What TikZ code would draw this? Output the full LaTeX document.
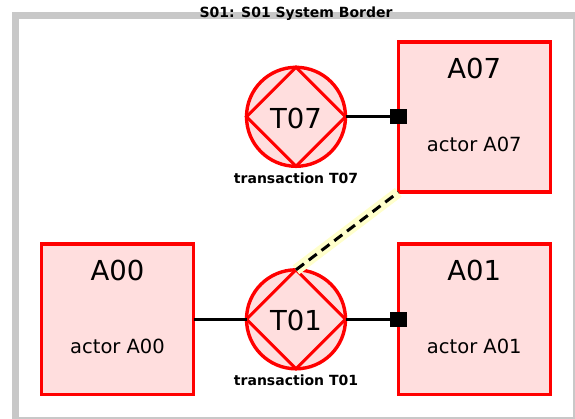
\documentclass[tikz,border=0pt]{standalone}
\usepackage{fontspec}
\setmainfont{DejaVu Sans}
\usetikzlibrary{calc}
\definecolor{actorfill}{RGB}{255,222,222}
\definecolor{bordergray}{RGB}{200,200,200}
\definecolor{hilite}{RGB}{255,255,204}

\begin{document}
\begin{tikzpicture}[x=1pt,y=-1pt,
  actor/.style={rectangle, draw=red, fill=actorfill, line width=3.6pt,
    minimum width=152pt, minimum height=150pt, inner sep=0pt, outer sep=0pt},
  trans/.style={circle, draw=red, fill=actorfill, line width=3.4pt,
    minimum size=99pt, inner sep=0pt, outer sep=0pt},
  diamondline/.style={draw=red, line width=3pt, line join=miter},
  bigtext/.style={font=\fontsize{27.5}{28}\selectfont, inner sep=0pt},
  smalltext/.style={font=\fontsize{19.5}{20}\selectfont, inner sep=0pt},
  caption/.style={font=\bfseries\fontsize{14}{14}\selectfont, inner sep=0pt},
  link/.style={draw=black, line width=3pt},
  endmark/.style={rectangle, fill=black, minimum width=17pt, minimum height=15pt,
    inner sep=0pt, outer sep=0pt},
]
\useasboundingbox (0,0) rectangle (575,419);

% system border
\fill[bordergray] (12,12) rectangle (575,419);
\fill[white] (19,19) rectangle (572.5,416.8);
\node[caption, anchor=base] (title) at (296,17.7) {S01: S01 System Border};

% actors
\node[actor] (A00) at (117.5,319.3) {};
\node[actor] (A01) at (474.3,319.3) {};
\node[actor] (A07) at (474.3,117.3) {};
\foreach \a/\t in {A00/A00, A01/A01, A07/A07}{
  \node[bigtext] (\a-name) at ($(\a.north)+(0,26.5)$) {\t};
  \node[smalltext] (\a-role) at ($(\a.north)+(0,102)$) {actor \t};
}

% transactions
\node[trans] (T07) at (296,116.8) {};
\node[trans] (T01) at (296,319.3) {};
\foreach \t in {T07, T01}{
  \draw[diamondline] (\t.north) -- (\t.east) -- (\t.south) -- (\t.west) -- cycle;
  \node[bigtext] (\t-name) at ($(\t.center)+(0,1.5)$) {\t};
  \node[caption] (\t-cap) at ($(\t.center)+(0,61)$) {transaction \t};
}

% end markers on the executor side
\node[endmark] (m07) at (398,116.8) {};
\node[endmark] (m01) at (398,319.3) {};

% links
\draw[link] (A00.east) -- (T01.west);
\draw[link] (T01.east) -- (m01.west);
\draw[link] (T07.east) -- (m07.west);

% highlighted dashed link
\draw[hilite, line width=11pt] (T01.north) -- (A07.south west);
\draw[link, dash pattern=on 10pt off 6pt] (T01.north) -- (A07.south west);
\end{tikzpicture}
\end{document}
